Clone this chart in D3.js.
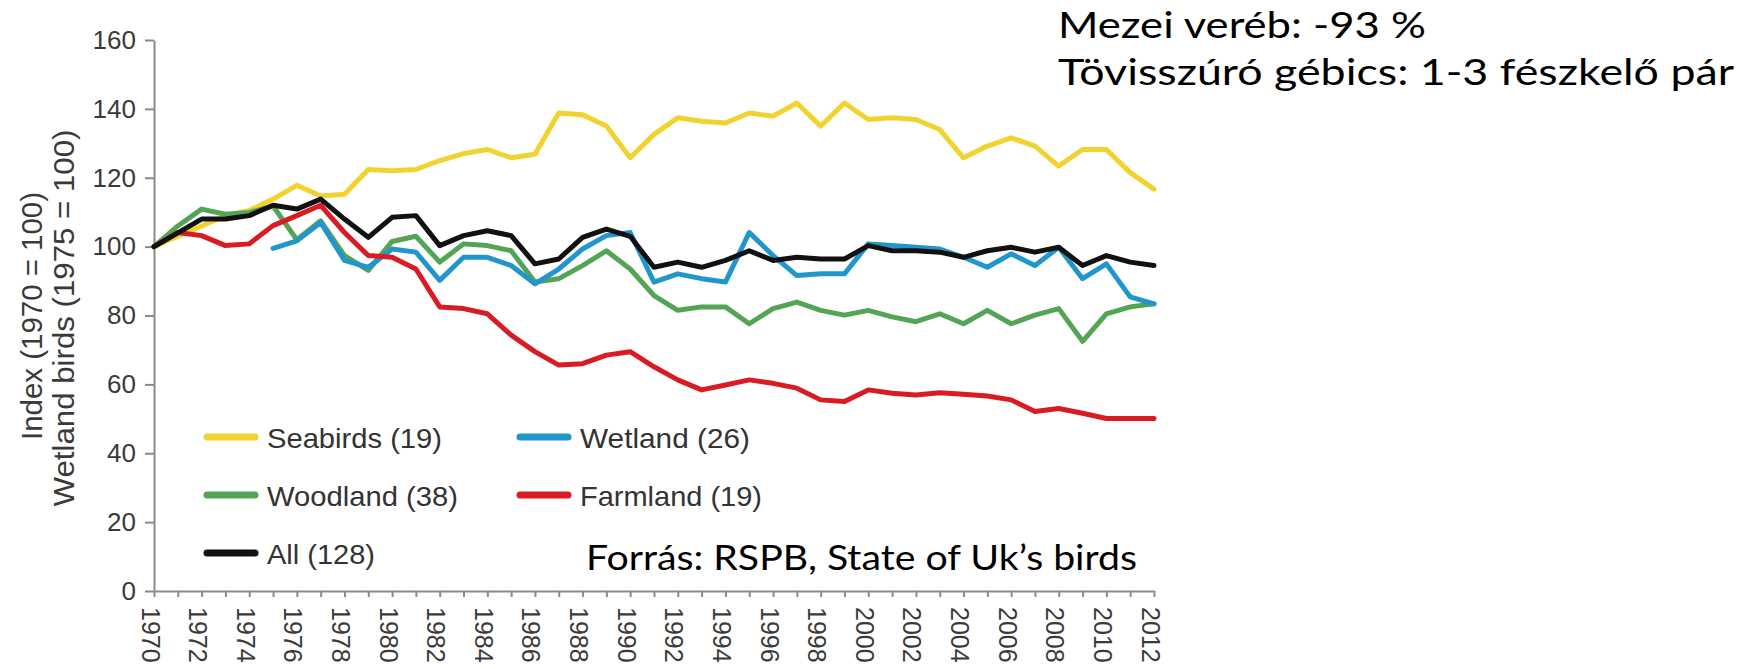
<!DOCTYPE html>
<html>
<head>
<meta charset="utf-8">
<script src="https://cdn.jsdelivr.net/npm/d3@7"></script>
<style>
  body { margin: 0; background: #fff; }
  svg { display: block; }
</style>
</head>
<body>
<svg id="chart" width="1744" height="669"></svg>
<script>
'use strict';

var years = [1970, 1971, 1972, 1973, 1974, 1975, 1976, 1977, 1978, 1979,
  1980, 1981, 1982, 1983, 1984, 1985, 1986, 1987, 1988, 1989,
  1990, 1991, 1992, 1993, 1994, 1995, 1996, 1997, 1998, 1999,
  2000, 2001, 2002, 2003, 2004, 2005, 2006, 2007, 2008, 2009,
  2010, 2011, 2012];

var seabirds = [100, 103, 106, 109, 110.5, 113.8, 117.8, 114.7, 115.2, 122.4,
  122, 122.4, 125, 127, 128.2, 125.8, 126.8, 138.8, 138.3, 135,
  125.8, 132.6, 137.4, 136.4, 135.9, 138.8, 137.9, 141.7, 135, 141.7,
  136.9, 137.4, 136.9, 134, 125.8, 129.2, 131.6, 129.2, 123.4, 128.2,
  128.2, 121.5, 116.7];

var woodland = [100, 106, 110.9, 109.4, 109.9, 111.8, 102, 107.5, 97.4, 93.1,
  101.5, 103, 95.5, 100.8, 100.3, 98.8, 89.7, 90.7, 94.5, 98.8,
  93.5, 85.8, 81.5, 82.5, 82.5, 77.6, 82, 83.9, 81.5, 80.1,
  81.5, 79.6, 78.2, 80.5, 77.6, 81.5, 77.6, 80.1, 82, 72.5,
  80.5, 82.5, 83.4];

// wetland index starts in 1975
var wetland = [null, null, null, null, null, 99.5, 101.7, 107, 96, 94,
  99.3, 98.4, 90.2, 96.9, 96.9, 94.5, 89.2, 93.5, 99.3, 103.2,
  104.1, 89.7, 92.1, 90.7, 89.7, 104.1, 97.4, 91.6, 92.1, 92.1,
  100.8, 100.3, 99.8, 99.3, 96.9, 94, 97.9, 94.5, 99.8, 90.7,
  95, 85.4, 83.4];

var farmland = [100, 104.1, 103.2, 100.3, 100.8, 106.1, 109, 112, 104.1, 97.4,
  96.9, 93.5, 82.5, 82, 80.5, 74.3, 69.5, 65.6, 66, 68.5,
  69.5, 65.1, 61.3, 58.4, 59.8, 61.3, 60.3, 58.9, 55.5, 55,
  58.4, 57.4, 56.9, 57.6, 57.1, 56.6, 55.5, 52.1, 53, 51.6,
  50.1, 50.1, 50.1];

var allBirds = [100, 104, 108, 108, 109, 112, 110.9, 113.8, 108, 102.7,
  108.5, 109, 100.3, 103.2, 104.6, 103.2, 95, 96.4, 102.7, 105.1,
  103, 94, 95.5, 94, 96, 98.8, 96, 96.9, 96.4, 96.4,
  100.3, 98.8, 98.8, 98.4, 96.9, 98.8, 99.8, 98.4, 99.8, 94.5,
  97.4, 95.5, 94.5];

var yTicks = [0, 20, 40, 60, 80, 100, 120, 140, 160];

var seriesNames = ['Seabirds (19)', 'Woodland (38)', 'Wetland (26)', 'Farmland (19)', 'All (128)'];
var seriesColors = ['#f2d22e', '#54a456', '#2196cc', '#d91c24', '#111111'];

var svg = d3.select('#chart');

var x = d3.scaleLinear().domain([1970, 2012]).range([154, 1154]);
var y = d3.scaleLinear().domain([0, 160]).range([591, 40]);

// axes
var yAxis = svg.append('g')
  .attr('transform', 'translate(154,0)')
  .call(d3.axisLeft(y).tickValues(yTicks).tickSize(9).tickSizeOuter(0).tickPadding(9));

yAxis.selectAll('text')
  .attr('font-family', '"Liberation Sans", Arial, sans-serif')
  .attr('font-size', 26)
  .attr('fill', '#3a3a3a');

var xAxis = svg.append('g')
  .attr('transform', 'translate(0,591)')
  .call(d3.axisBottom(x).tickValues(years).tickSize(6).tickSizeOuter(0)
    .tickFormat(function(d) { return d % 2 === 0 ? d : ''; }));

xAxis.selectAll('text')
  .attr('transform', 'rotate(90)')
  .attr('x', 16)
  .attr('y', 13)
  .attr('dy', 0)
  .attr('text-anchor', 'start')
  .attr('font-family', '"Liberation Sans", Arial, sans-serif')
  .attr('font-size', 25)
  .attr('fill', '#3a3a3a');

svg.selectAll('.domain, .tick line')
  .attr('stroke', '#8a8a8a')
  .attr('stroke-width', 2);

// y axis title (two lines)
var yTitle = svg.append('g')
  .attr('font-family', '"Liberation Sans", Arial, sans-serif')
  .attr('font-size', 30)
  .attr('fill', '#3a3a3a')
  .attr('text-anchor', 'middle');

yTitle.append('text')
  .attr('transform', 'translate(42,316) rotate(-90)')
  .attr('textLength', 248)
  .attr('lengthAdjust', 'spacingAndGlyphs')
  .text('Index (1970 = 100)');

yTitle.append('text')
  .attr('transform', 'translate(74,318) rotate(-90)')
  .attr('textLength', 377)
  .attr('lengthAdjust', 'spacingAndGlyphs')
  .text('Wetland birds (1975 = 100)');

// lines
var series = [seabirds, woodland, wetland, farmland, allBirds];

var line = d3.line()
  .defined(function(d) { return d != null; })
  .x(function(d, i) { return x(years[i]); })
  .y(function(d) { return y(d); });

svg.append('g')
  .attr('class', 'lines')
  .selectAll('path')
  .data(series)
  .enter().append('path')
  .attr('d', line)
  .attr('fill', 'none')
  .attr('stroke', function(d, i) { return seriesColors[i]; })
  .attr('stroke-width', 5)
  .attr('stroke-linejoin', 'round')
  .attr('stroke-linecap', 'round');

// legend: two columns, three rows
var legendPos = [[207, 437, 175], [207, 495, 191], [520, 437, 170], [520, 495, 182], [207, 553, 108]];

var legend = svg.append('g')
  .attr('class', 'legend')
  .selectAll('g')
  .data(seriesNames)
  .enter().append('g')
  .attr('transform', function(d, i) {
    return 'translate(' + legendPos[i][0] + ',' + legendPos[i][1] + ')';
  });

legend.append('line')
  .attr('x1', 0)
  .attr('x2', 48)
  .attr('stroke', function(d, i) { return seriesColors[i]; })
  .attr('stroke-width', 7)
  .attr('stroke-linecap', 'round');

legend.append('text')
  .attr('x', 60)
  .attr('y', 11)
  .attr('font-family', '"Liberation Sans", Arial, sans-serif')
  .attr('font-size', 28)
  .attr('fill', '#333')
  .attr('textLength', function(d, i) { return legendPos[i][2]; })
  .attr('lengthAdjust', 'spacingAndGlyphs')
  .text(function(d) { return d; });

// slide annotations
var notes = svg.append('g')
  .attr('font-family', 'Lato, "Noto Sans", sans-serif')
  .attr('fill', '#000');

notes.append('text')
  .attr('x', 1058)
  .attr('y', 38)
  .attr('font-size', 37)
  .attr('textLength', 368)
  .attr('lengthAdjust', 'spacingAndGlyphs')
  .text('Mezei veréb: -93 %');

notes.append('text')
  .attr('x', 1058)
  .attr('y', 85)
  .attr('font-size', 37)
  .attr('textLength', 676)
  .attr('lengthAdjust', 'spacingAndGlyphs')
  .text('Tövisszúró gébics: 1-3 fészkelő pár');

notes.append('text')
  .attr('x', 586)
  .attr('y', 570)
  .attr('font-size', 35)
  .attr('textLength', 551)
  .attr('lengthAdjust', 'spacingAndGlyphs')
  .text('Forrás: RSPB, State of Uk’s birds');
</script>
</body>
</html>
